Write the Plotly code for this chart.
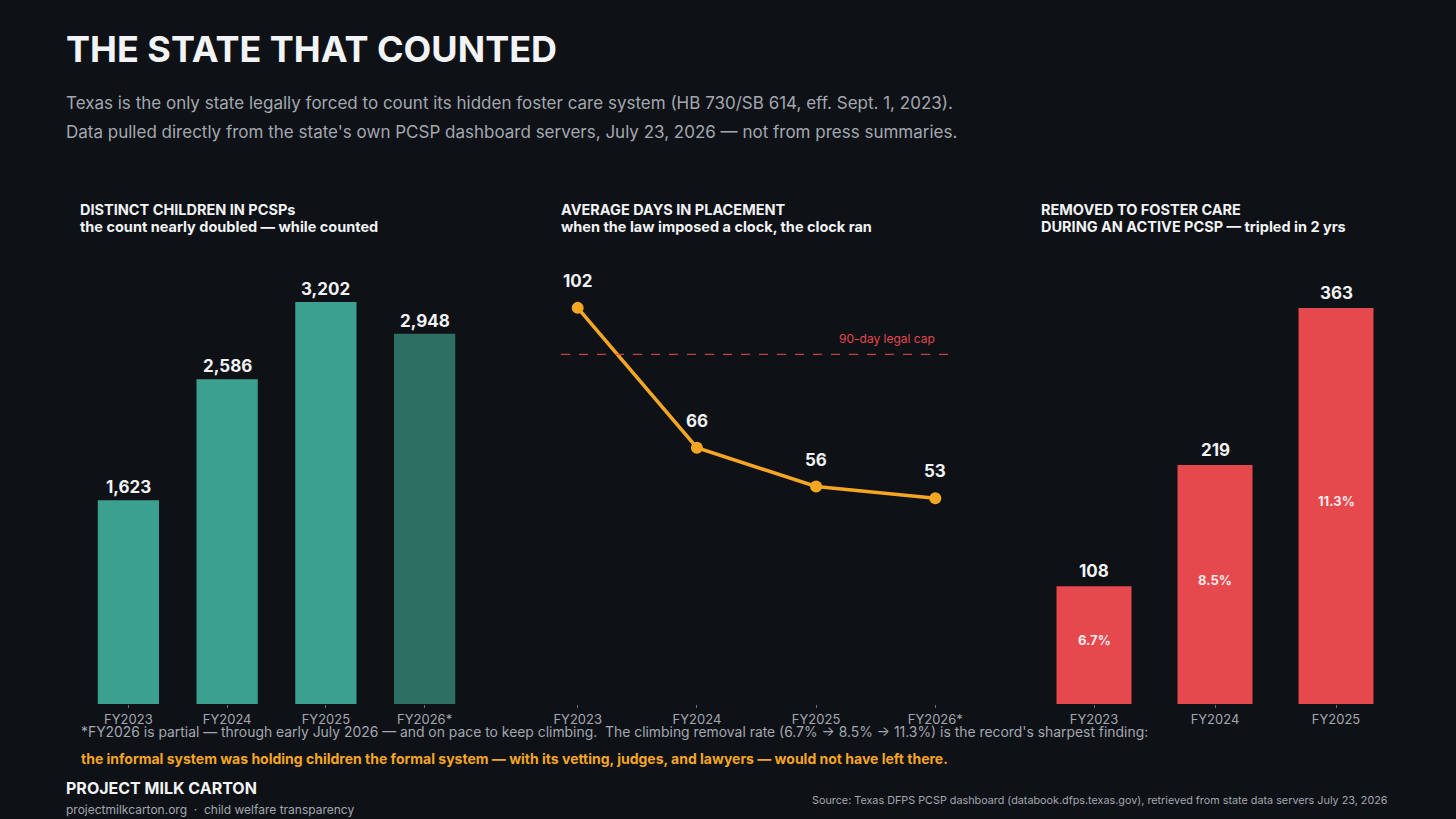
import plotly.graph_objs as go

# dados dos três painéis
years_children = ["FY2023", "FY2024", "FY2025", "FY2026*"]
children = [1623, 2586, 3202, 2948]

years_days = ["FY2023", "FY2024", "FY2025", "FY2026*"]
avg_days = [102, 66, 56, 53]
legal_cap = 90

years_removed = ["FY2023", "FY2024", "FY2025"]
removed = [108, 219, 363]
removal_rate = ["6.7%", "8.5%", "11.3%"]

BG = "#0e1116"
TEAL = "#3ca090"
TEAL_DARK = "#2e6f64"
RED = "#e5484d"
ORANGE = "#f5a623"
WHITE = "#f2f3f5"
GRAY = "#a3a8b0"
FONT = "Inter"

W, H = 1456, 819


def px(x):
    return x / W


def py(y):
    return 1 - y / H


fig = go.Figure()

# painel 1 - crianças distintas
fig.add_trace(go.Bar(
    x=years_children, y=children, xaxis="x", yaxis="y",
    marker=dict(color=[TEAL, TEAL, TEAL, TEAL_DARK], line=dict(width=0)),
    hoverinfo="x+y", showlegend=False))

# painel 2 - média de dias
fig.add_trace(go.Scatter(
    x=years_days, y=avg_days, xaxis="x2", yaxis="y2", mode="lines+markers",
    line=dict(color=ORANGE, width=3.5), marker=dict(color=ORANGE, size=12),
    showlegend=False))

# painel 3 - removidos para foster care
fig.add_trace(go.Bar(
    x=years_removed, y=removed, xaxis="x3", yaxis="y3",
    marker=dict(color=RED, line=dict(width=0)),
    hoverinfo="x+y", showlegend=False))

ydom = [py(704), py(250)]
axis_common = dict(showgrid=False, zeroline=False, showline=False, ticks="outside",
                   ticklen=3, tickcolor="#6b7078", tickwidth=1,
                   tickfont=dict(family=FONT, size=13, color=GRAY), type="category")
yaxis_common = dict(showgrid=False, zeroline=False, showline=False, showticklabels=False,
                    ticks="")

fig.update_layout(
    xaxis=dict(domain=[px(79), px(474)], range=[-0.5, 3.5], anchor="y", **axis_common),
    yaxis=dict(domain=ydom, range=[0, 3616], anchor="x", **yaxis_common),
    xaxis2=dict(domain=[px(561), px(952)], range=[-0.14, 3.14], anchor="y2", **axis_common),
    yaxis2=dict(domain=ydom, range=[0, 116.9], anchor="x2", **yaxis_common),
    xaxis3=dict(domain=[px(1033.5), px(1396.5)], range=[-0.5, 2.5], anchor="y3", **axis_common),
    yaxis3=dict(domain=ydom, range=[0, 416.2], anchor="x3", **yaxis_common),
    bargap=0.38,
    paper_bgcolor=BG, plot_bgcolor=BG,
    width=W, height=H,
    margin=dict(l=0, r=0, t=0, b=0, autoexpand=False),
    font=dict(family=FONT, color=WHITE),
)

# linha tracejada do limite legal de 90 dias
fig.add_shape(type="line", xref="x2 domain", yref="y2", x0=0, x1=1, y0=legal_cap, y1=legal_cap,
              line=dict(color=RED, width=1.3, dash="dash"), opacity=0.85)

annotations = []

# rótulos de valor
for cat, v in zip(years_children, children):
    annotations.append(dict(x=cat, y=v, xref="x", yref="y", text=f"{v:,}", showarrow=False,
                            yanchor="bottom", yshift=1,
                            font=dict(family=FONT, size=17, color=WHITE, weight="bold")))
for cat, v in zip(years_days, avg_days):
    annotations.append(dict(x=cat, y=v, xref="x2", yref="y2", text=str(v), showarrow=False,
                            yanchor="bottom", yshift=15,
                            font=dict(family=FONT, size=17, color=WHITE, weight="bold")))
for cat, v, pct in zip(years_removed, removed, removal_rate):
    annotations.append(dict(x=cat, y=v, xref="x3", yref="y3", text=str(v), showarrow=False,
                            yanchor="bottom", yshift=3,
                            font=dict(family=FONT, size=17, color=WHITE, weight="bold")))
    # taxa de remoção no meio da barra
    annotations.append(dict(x=cat, y=v / 2, xref="x3", yref="y3", text=pct, showarrow=False,
                            yanchor="middle", yshift=5,
                            font=dict(family=FONT, size=13, color="#fbeaea", weight="bold")))

annotations.append(dict(x=years_days[-1], y=legal_cap, xref="x2", yref="y2",
                        text="90-day legal cap", showarrow=False, xanchor="right",
                        yanchor="bottom", yshift=6, xshift=2,
                        font=dict(family=FONT, size=12, color=RED)))


def label(x, y, text, size, color, bold=False, xanchor="left"):
    annotations.append(dict(x=px(x), y=py(y), xref="paper", yref="paper", text=text,
                            showarrow=False, xanchor=xanchor, yanchor="middle",
                            font=dict(family=FONT, size=size, color=color,
                                      weight="bold" if bold else "normal")))


# título e subtítulo
label(64, 49, "THE STATE THAT COUNTED", 36, WHITE, bold=True)
label(64, 103, "Texas is the only state legally forced to count its hidden foster care system "
               "(HB 730/SB 614, eff. Sept. 1, 2023).", 17, GRAY)
label(64, 132, "Data pulled directly from the state's own PCSP dashboard servers, July 23, 2026 "
               "— not from press summaries.", 17, GRAY)

# títulos dos painéis
label(78, 210, "DISTINCT CHILDREN IN PCSPs", 14.5, WHITE, bold=True)
label(78, 226, "the count nearly doubled — while counted", 14.5, WHITE, bold=True)
label(559, 210, "AVERAGE DAYS IN PLACEMENT", 14.5, WHITE, bold=True)
label(559, 226, "when the law imposed a clock, the clock ran", 14.5, WHITE, bold=True)
label(1039, 210, "REMOVED TO FOSTER CARE", 14.5, WHITE, bold=True)
label(1039, 226, "DURING AN ACTIVE PCSP — tripled in 2 yrs", 14.5, WHITE, bold=True)

# notas de rodapé
label(79, 732, "*FY2026 is partial — through early July 2026 — and on pace to keep climbing.  "
               "The climbing removal rate (6.7% → 8.5% → 11.3%) is the record's sharpest finding:",
      13.9, GRAY)
label(79, 758, "the informal system was holding children the formal system — with its vetting, "
               "judges, and lawyers — would not have left there.", 14, ORANGE, bold=True)
label(64, 788, "PROJECT MILK CARTON", 16, WHITE, bold=True)
label(64, 809, "projectmilkcarton.org  ·  child welfare transparency", 12, GRAY)
label(1390, 800, "Source: Texas DFPS PCSP dashboard (databook.dfps.texas.gov), retrieved from "
                 "state data servers July 23, 2026", 10.8, GRAY, xanchor="right")

fig.update_layout(annotations=annotations)

# tirar a margem padrão do body para a figura ocupar a janela inteira
fig.write_html("out.html", config={"displayModeBar": False},
               post_script="document.body.style.margin='0';")
